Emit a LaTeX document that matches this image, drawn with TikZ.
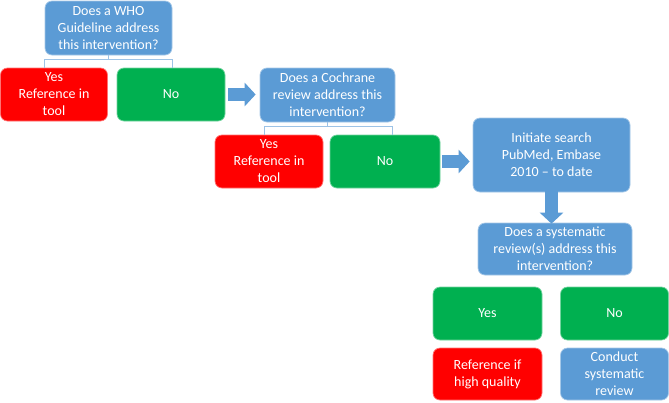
\documentclass[tikz,border=0pt]{standalone}
\usepackage{fontspec}
\setmainfont{Carlito}
\usetikzlibrary{arrows.meta,calc}
\definecolor{boxblue}{HTML}{5B9BD5}
\definecolor{boxgreen}{HTML}{00B050}
\definecolor{boxred}{HTML}{FF0000}
\definecolor{brk}{HTML}{9DC3E6}
\tikzset{
  box/.style={rounded corners=7pt, text=white, align=center, inner sep=2pt,
    font=\fontsize{14}{17}\selectfont, line width=0.7pt},
  bluebox/.style={box, fill=boxblue, draw=boxblue!55!white},
  greenbox/.style={box, fill=boxgreen, draw=boxgreen!55!white},
  redbox/.style={box, fill=boxred, draw=boxred!55!white},
  sz/.style 2 args={minimum width=#1pt, minimum height=#2pt},
  bracket/.style={draw=brk, line width=0.8pt},
  blockarr/.style={draw=boxblue, line width=13pt,
    -{Triangle[width=23pt,length=11pt]}}
}
\begin{document}
\begin{tikzpicture}[x=1pt,y=-1pt]
\useasboundingbox[fill=white] (0,0) rectangle (669,402);
\node[bluebox, sz={127}{54}] (who) at (108.5,28) {Does a WHO\\Guideline address\\this intervention?};
\node[redbox, sz={107}{53}] (yes1) at (54,94.5) {Yes\\Reference in\\tool};
\node[greenbox, sz={108}{53}] (no1) at (171,94.5) {No};
\node[bluebox, sz={135}{54}] (coch) at (327.5,95) {Does a Cochrane\\review address this\\intervention?};
\node[redbox, sz={108}{53}] (yes2) at (269,161.5) {Yes\\Reference in\\tool};
\node[greenbox, sz={110}{53}] (no2) at (385,161.5) {No};
\node[bluebox, sz={157}{74}] (init) at (551.5,155) {Initiate search\\PubMed, Embase\\2010 -- to date};
\node[bluebox, sz={154}{52}] (sys) at (555,249) {Does a systematic\\review(s) address this\\intervention?};
\node[greenbox, sz={109}{53}] (yes3) at (487.5,313.5) {Yes};
\node[greenbox, sz={108}{53}] (no3) at (614.5,313.5) {No};
\node[redbox, sz={109}{52}] (ref3) at (487.5,374) {Reference if\\high quality};
\node[bluebox, sz={108}{52}] (cond) at (614.5,374) {Conduct\\systematic\\review};
% brackets
\draw[bracket] (who.south) -- ++(0,4) coordinate (w1);
\draw[bracket] (who.west |- yes1.north) |- (w1) -| (who.east |- no1.north);
\draw[bracket] (coch.south) -- ++(0,4) coordinate (c1);
\draw[bracket] ([xshift=5pt]coch.west |- yes2.north) |- (c1) -| ([xshift=-3pt]coch.east |- no2.north);
% block arrows
\draw[blockarr] ([xshift=3pt]no1.east) -- ([xshift=-4pt]no1.east -| coch.west);
\draw[blockarr] ([xshift=2pt]no2.east) -- ([xshift=-3pt]no2.east -| init.west);
\draw[blockarr] ([yshift=1pt]init.south) -- ([yshift=-1pt]init.south |- sys.north);
\end{tikzpicture}
\end{document}
